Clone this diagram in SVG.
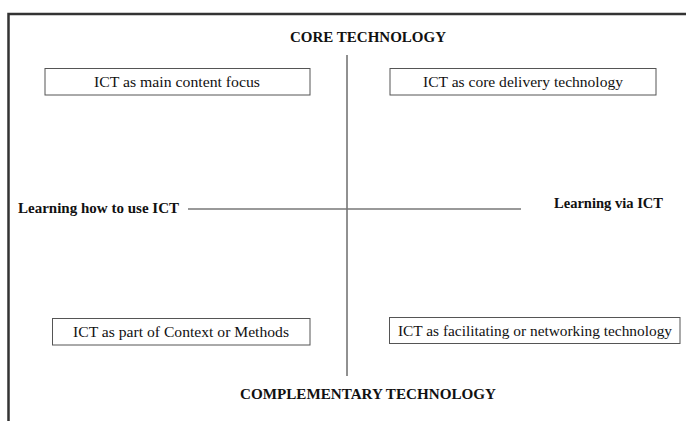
<svg xmlns="http://www.w3.org/2000/svg" width="686" height="421" viewBox="0 0 686 421">
<style>
.box{fill:#fff;stroke:#555;stroke-width:1}
.t{font-family:"Liberation Serif","Times New Roman",serif;font-size:15px;fill:#111;text-anchor:middle}
.b{font-family:"Liberation Serif","Times New Roman",serif;font-size:15px;font-weight:bold;fill:#111}
</style>
<rect width="686" height="421" fill="#fff"/>
<g id="frame"><path d="M8.5,421 V14 H686" fill="none" stroke="#333" stroke-width="2.5"/></g>
<g id="connectors">
<line x1="347" y1="55" x2="347" y2="376" stroke="#222" stroke-width="1"/>
<line x1="188" y1="209" x2="521" y2="209" stroke="#777" stroke-width="1.5"/>
</g>
<g id="core"><text class="b" x="368" y="42" text-anchor="middle" textLength="156" lengthAdjust="spacingAndGlyphs">CORE TECHNOLOGY</text></g>
<g id="complementary"><text class="b" x="368" y="399" text-anchor="middle" textLength="256" lengthAdjust="spacingAndGlyphs">COMPLEMENTARY TECHNOLOGY</text></g>
<g id="learn-how"><text class="b" x="18" y="213" font-size="14" textLength="161" lengthAdjust="spacingAndGlyphs">Learning how to use ICT</text></g>
<g id="learn-via"><text class="b" x="554" y="208" font-size="14" textLength="109" lengthAdjust="spacingAndGlyphs">Learning via ICT</text></g>
<g id="n1"><rect class="box" x="45" y="68.5" width="265" height="26.5"/><text class="t" x="177" y="87" textLength="166" lengthAdjust="spacingAndGlyphs">ICT as main content focus</text></g>
<g id="n2"><rect class="box" x="390" y="68.5" width="266" height="26.5"/><text class="t" x="523" y="87" textLength="200" lengthAdjust="spacingAndGlyphs">ICT as core delivery technology</text></g>
<g id="n3"><rect class="box" x="52.5" y="318.5" width="257.5" height="26.5"/><text class="t" x="181" y="337" textLength="216" lengthAdjust="spacingAndGlyphs">ICT as part of Context or Methods</text></g>
<g id="n4"><rect class="box" x="389.5" y="317.5" width="290.5" height="26"/><text class="t" x="535" y="336" textLength="274" lengthAdjust="spacingAndGlyphs">ICT as facilitating or networking technology</text></g>
</svg>
